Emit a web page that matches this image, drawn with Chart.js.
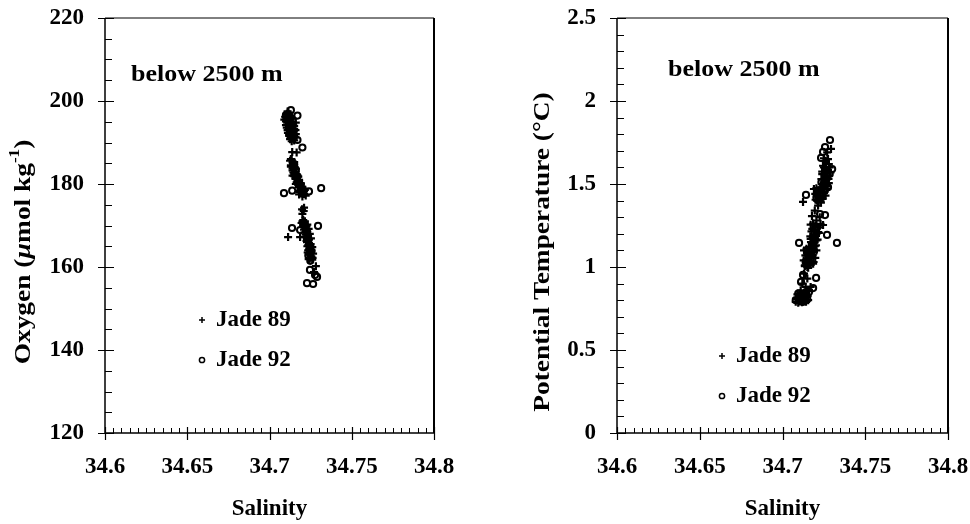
<!DOCTYPE html>
<html>
<head>
<meta charset="utf-8">
<script src="https://cdn.jsdelivr.net/npm/chart.js@4"></script>
<style>
  html, body { margin: 0; padding: 0; background: #fff; overflow: hidden; }
  #wrap { position: relative; width: 970px; height: 524px; }
  canvas { position: absolute; top: 0; }
  #oxy { left: 0; }
  #temp { left: 480px; }
</style>
</head>
<body>
<div id="wrap">
  <canvas id="oxy" width="485" height="524"></canvas>
  <canvas id="temp" width="490" height="524"></canvas>
</div>
<script>
// axis ticks
const salTicks = [34.6, 34.65, 34.7, 34.75, 34.8];
const oxyTicks = [120, 140, 160, 180, 200, 220];
const tempTicks = [0, 0.5, 1, 1.5, 2, 2.5];

// oxygen panel, Jade 89
const salOxy89 = [34.711, 34.712, 34.710, 34.713, 34.711, 34.714, 34.710, 34.712, 34.715, 34.711, 34.713, 34.716, 34.712, 34.714, 34.715, 34.713, 34.709, 34.716,
  34.7095, 34.7105, 34.7115, 34.7125, 34.7135, 34.7100, 34.7110, 34.7120, 34.7130, 34.7140, 34.7150, 34.7105, 34.7118, 34.7128, 34.7138, 34.7148, 34.7158, 34.7112, 34.7122, 34.7132, 34.7142, 34.7155, 34.7125, 34.7135, 34.7145,
  34.7138, 34.7165, 34.715,
  34.713, 34.714, 34.713, 34.715, 34.714, 34.716, 34.715, 34.717, 34.716, 34.718, 34.717, 34.719, 34.718, 34.720, 34.719, 34.721, 34.720, 34.718, 34.722, 34.716, 34.714,
  34.7125, 34.7135, 34.7145, 34.7130, 34.7140, 34.7150, 34.7160, 34.7145, 34.7155, 34.7165, 34.7175, 34.7150, 34.7160, 34.7170, 34.7180, 34.7190, 34.7165, 34.7175, 34.7185, 34.7195, 34.7205, 34.7180, 34.7195, 34.7210, 34.7215, 34.7200, 34.7185,
  34.7198, 34.7208, 34.7200, 34.7210,
  34.7113, 34.7186,
  34.7200, 34.7215, 34.7225, 34.7210, 34.7230, 34.7220, 34.7235, 34.7225, 34.7240, 34.7230, 34.7245, 34.7235, 34.7250, 34.7240, 34.7255, 34.7245, 34.7260, 34.7232, 34.7250,
  34.7195, 34.7205, 34.7215, 34.7205, 34.7218, 34.7230, 34.7212, 34.7225, 34.7238, 34.7220, 34.7232, 34.7245, 34.7228, 34.7240, 34.7252, 34.7236, 34.7248, 34.7260, 34.7242, 34.7255, 34.7265, 34.7250, 34.7262, 34.7238,
  34.7282, 34.7270];
const oxy89 = [197.5, 196.8, 196.0, 195.5, 195.0, 194.6, 194.2, 193.8, 193.3, 193.0, 192.5, 192.0, 191.6, 191.0, 190.5, 194.0, 195.5, 194.8,
  196.2, 196.9, 197.2, 196.4, 195.9, 195.1, 195.6, 194.9, 194.4, 195.0, 194.0, 193.6, 193.1, 193.5, 192.9, 192.6, 193.0, 192.3, 191.9, 191.3, 191.8, 191.2, 190.8, 190.3, 190.9,
  187.7, 187.6, 185.3,
  186.0, 185.2, 184.5, 184.0, 183.3, 183.0, 182.4, 182.0, 181.5, 181.0, 180.5, 180.2, 179.6, 179.3, 178.8, 178.3, 177.8, 177.5, 177.2, 180.0, 182.0,
  185.6, 185.8, 184.8, 184.2, 183.8, 184.5, 183.6, 182.8, 182.7, 182.3, 181.8, 181.9, 181.2, 180.9, 180.7, 180.0, 180.4, 179.8, 179.2, 179.0, 178.9, 178.4, 177.9, 177.6, 178.6, 177.0, 178.1,
  173.9, 173.5, 172.8, 174.3,
  167.2, 167.2,
  171.0, 170.5, 169.8, 169.0, 168.5, 167.8, 167.0, 166.3, 165.8, 165.0, 164.5, 164.0, 163.5, 163.0, 162.5, 162.0, 161.8, 163.5, 165.5,
  170.6, 171.3, 171.0, 170.0, 169.5, 170.2, 168.3, 168.8, 169.2, 167.2, 167.6, 168.0, 166.0, 166.6, 166.9, 165.3, 165.1, 164.8, 164.2, 164.0, 163.2, 162.6, 162.2, 161.9,
  160.2, 158.8];

// oxygen panel, Jade 92
const salOxy92 = [34.713, 34.717, 34.717, 34.720, 34.710, 34.712, 34.714, 34.712, 34.715,
  34.7088, 34.7138, 34.7240, 34.7314, 34.715, 34.717, 34.719, 34.720, 34.716,
  34.7137, 34.7186, 34.7295, 34.7205, 34.7228, 34.7242, 34.7236, 34.7255, 34.7248,
  34.7246, 34.7277, 34.7289, 34.7228, 34.7265];
const oxy92 = [197.8, 196.5, 190.6, 188.8, 196.6, 195.2, 193.0, 192.0, 191.5,
  177.8, 178.4, 178.2, 179.0, 184.8, 181.8, 179.6, 178.6, 183.5,
  169.4, 168.9, 169.9, 170.2, 166.8, 164.3, 162.8, 163.8, 161.5,
  159.3, 158.1, 157.6, 156.1, 155.9];

// temperature panel, Jade 89
const salTemp89 = [34.7293, 34.7270, 34.7260, 34.7280, 34.7250, 34.7275, 34.7290, 34.7240, 34.7265, 34.7255, 34.7280, 34.7245, 34.7230, 34.7270, 34.7220, 34.7250, 34.7210, 34.7240, 34.7200, 34.7230,
  34.7250, 34.7262, 34.7275, 34.7285, 34.7245, 34.7258, 34.7270, 34.7282, 34.7240, 34.7252, 34.7265, 34.7278, 34.7235, 34.7248, 34.7260, 34.7272,
  34.7190, 34.7205, 34.7220, 34.7235, 34.7250, 34.7198, 34.7212, 34.7228, 34.7242, 34.7215, 34.7232, 34.7260, 34.7208,
  34.7124, 34.7178, 34.7245, 34.7215, 34.7195, 34.7225, 34.7205,
  34.7200, 34.7180, 34.7215, 34.7190, 34.7170, 34.7205, 34.7180, 34.7160, 34.7190, 34.7150, 34.7175, 34.7145, 34.7165, 34.7135, 34.7155, 34.7185,
  34.7170, 34.7185, 34.7200, 34.7215, 34.7230, 34.7175, 34.7190, 34.7205, 34.7220, 34.7168, 34.7182, 34.7198, 34.7212, 34.7172, 34.7188, 34.7202, 34.7178, 34.7195,
  34.7130, 34.7145, 34.7160, 34.7175, 34.7190, 34.7205, 34.7138, 34.7152, 34.7168, 34.7182, 34.7198, 34.7128, 34.7142, 34.7158, 34.7172, 34.7188, 34.7135, 34.7150,
  34.7130, 34.7150, 34.7120, 34.7140, 34.7110, 34.7130, 34.7100, 34.7120, 34.7090, 34.7110, 34.7135, 34.7145,
  34.7080, 34.7095, 34.7105, 34.7118, 34.7130, 34.7142, 34.7155, 34.7085, 34.7100, 34.7115, 34.7128, 34.7140, 34.7152, 34.7090, 34.7105, 34.7120, 34.7135, 34.7148, 34.7160, 34.7170];
const temp89 = [1.711, 1.690, 1.640, 1.620, 1.600, 1.585, 1.570, 1.560, 1.545, 1.520, 1.505, 1.500, 1.480, 1.470, 1.455, 1.445, 1.430, 1.420, 1.405, 1.395,
  1.655, 1.630, 1.650, 1.600, 1.610, 1.590, 1.570, 1.550, 1.575, 1.560, 1.525, 1.530, 1.530, 1.510, 1.495, 1.485,
  1.470, 1.475, 1.462, 1.468, 1.455, 1.440, 1.432, 1.425, 1.410, 1.395, 1.388, 1.430, 1.400,
  1.392, 1.307, 1.253, 1.370, 1.340, 1.300, 1.280,
  1.250, 1.230, 1.210, 1.190, 1.170, 1.160, 1.140, 1.120, 1.105, 1.085, 1.065, 1.045, 1.030, 1.010, 0.995, 1.020,
  1.255, 1.262, 1.245, 1.238, 1.260, 1.215, 1.220, 1.200, 1.205, 1.185, 1.178, 1.170, 1.165, 1.150, 1.145, 1.130, 1.118, 1.125,
  1.100, 1.110, 1.095, 1.108, 1.090, 1.100, 1.070, 1.075, 1.060, 1.072, 1.055, 1.040, 1.035, 1.045, 1.025, 1.030, 1.005, 1.000,
  0.960, 0.930, 0.900, 0.880, 0.860, 0.845, 0.830, 0.815, 0.805, 0.795, 0.800, 0.820,
  0.790, 0.785, 0.792, 0.788, 0.795, 0.790, 0.800, 0.810, 0.812, 0.805, 0.818, 0.812, 0.825, 0.835, 0.840, 0.832, 0.848, 0.855, 0.862, 0.880];

// temperature panel, Jade 92
const salTemp92 = [34.7287, 34.7257, 34.7245, 34.7233, 34.7268, 34.7285, 34.7300, 34.7260, 34.7235, 34.7275, 34.7142, 34.7225, 34.7255, 34.7205,
  34.7227, 34.7257, 34.7269, 34.7100, 34.7329, 34.7210, 34.7195, 34.7170, 34.7160, 34.7140,
  34.7124, 34.7112, 34.7203, 34.7185, 34.7160, 34.7100, 34.7080, 34.7125, 34.7150, 34.7095];
const temp92 = [1.765, 1.723, 1.693, 1.657, 1.610, 1.560, 1.590, 1.530, 1.510, 1.480, 1.434, 1.440, 1.460, 1.420,
  1.319, 1.313, 1.193, 1.145, 1.145, 1.240, 1.180, 1.100, 1.060, 1.030,
  0.952, 0.910, 0.934, 0.873, 0.850, 0.815, 0.800, 0.790, 0.805, 0.840];

const FONT = '"Liberation Serif", "Times New Roman", serif';
const pts = (xs, ys) => xs.map((x, i) => ({ x, y: ys[i] }));
const fmt = v => String(+(+v).toFixed(3));

function drawCross(ctx, x, y, r) {
  ctx.beginPath();
  ctx.moveTo(x - r, y); ctx.lineTo(x + r, y);
  ctx.moveTo(x, y - r); ctx.lineTo(x, y + r);
  ctx.stroke();
}
function drawCircle(ctx, x, y, r) {
  ctx.beginPath();
  ctx.arc(x, y, r, 0, Math.PI * 2);
  ctx.stroke();
}

// frame, ticks, axis titles, notes and legend
const decor = {
  id: 'decor',
  afterDraw(chart) {
    const o = chart.options.plugins.decor;
    const ctx = chart.ctx;
    const { left, right, top, bottom } = chart.chartArea;
    const xs = chart.scales.x, ys = chart.scales.y;
    ctx.save();
    ctx.strokeStyle = '#000';
    ctx.fillStyle = '#000';

    // frame
    ctx.lineWidth = 1;
    ctx.beginPath(); ctx.moveTo(left, top); ctx.lineTo(right, top); ctx.stroke();
    ctx.lineWidth = 2;
    ctx.beginPath(); ctx.moveTo(right, top); ctx.lineTo(right, bottom); ctx.stroke();
    ctx.lineWidth = 1.5;
    ctx.beginPath(); ctx.moveTo(left, top); ctx.lineTo(left, bottom); ctx.lineTo(right, bottom); ctx.stroke();

    // minor ticks
    ctx.lineWidth = 1;
    ctx.beginPath();
    for (let v = xs.min; v <= xs.max + 1e-9; v += o.xMinor) {
      const px = Math.round(xs.getPixelForValue(v)) + 0.5;
      ctx.moveTo(px, bottom); ctx.lineTo(px, bottom - 5);
    }
    for (let v = ys.min; v <= ys.max + 1e-9; v += o.yMinor) {
      const py = Math.round(ys.getPixelForValue(v)) + 0.5;
      ctx.moveTo(left, py); ctx.lineTo(left + 7, py);
    }
    ctx.stroke();
    // major ticks
    ctx.lineWidth = 1.2;
    ctx.beginPath();
    xs.ticks.forEach(t => {
      const px = Math.round(xs.getPixelForValue(t.value)) + 0.5;
      ctx.moveTo(px, bottom - 6); ctx.lineTo(px, bottom + 7);
    });
    ys.ticks.forEach(t => {
      const py = Math.round(ys.getPixelForValue(t.value)) + 0.5;
      ctx.moveTo(left - 7, py); ctx.lineTo(left + 9, py);
    });
    ctx.stroke();

    // x title
    ctx.font = 'bold 23px ' + FONT;
    ctx.textAlign = 'center';
    ctx.textBaseline = 'middle';
    ctx.fillText('Salinity', (left + right) / 2, 509);

    // y title (rotated, built from pieces, widened a little like the original face)
    ctx.save();
    ctx.translate(o.yTitleX, 252);
    ctx.rotate(-Math.PI / 2);
    ctx.scale(1.14, 1);
    ctx.textAlign = 'left';
    const parts = o.yTitle;
    const fontOf = p => (p.italic ? 'italic ' : '') + 'bold ' + (p.sup ? 15 : 24) + 'px ' + FONT;
    let total = 0;
    parts.forEach(p => { ctx.font = fontOf(p); total += ctx.measureText(p.t).width; });
    let cx = -total / 2;
    parts.forEach(p => {
      ctx.font = fontOf(p);
      ctx.fillText(p.t, cx, p.sup ? -9 : 0);
      cx += ctx.measureText(p.t).width;
    });
    ctx.restore();

    // note
    ctx.save();
    ctx.font = 'bold 23px ' + FONT;
    ctx.textAlign = 'left';
    ctx.translate(o.noteX, o.noteY);
    ctx.scale(1.13, 1);
    ctx.fillText('below 2500 m', 0, 0);
    ctx.restore();

    // legend
    ctx.font = 'bold 23px ' + FONT;
    ctx.textAlign = 'left';
    ctx.lineWidth = 1.5;
    drawCross(ctx, o.legX, o.legY[0], 3);
    drawCircle(ctx, o.legX, o.legY[1], 2.6);
    ctx.fillText('Jade 89', o.legX + 14, o.legY[0]);
    ctx.fillText('Jade 92', o.legX + 14, o.legY[1]);
    ctx.restore();
  }
};

function makePanel(id, d89, d92, yMin, yMax, yTickVals, padRight, yWidth, extra) {
  return new Chart(document.getElementById(id), {
    type: 'scatter',
    data: {
      datasets: [
        { label: 'Jade 89', data: d89, pointStyle: 'cross', pointRadius: 4, borderColor: '#000', borderWidth: 2.2 },
        { label: 'Jade 92', data: d92, pointStyle: 'circle', pointRadius: 3.1, borderColor: '#000', backgroundColor: 'rgba(0,0,0,0)', borderWidth: 2 }
      ]
    },
    options: {
      responsive: false,
      animation: false,
      devicePixelRatio: 1,
      layout: { padding: { left: 0, right: padRight, top: 18, bottom: 0 } },
      plugins: { legend: { display: false }, tooltip: { enabled: false }, decor: extra },
      scales: {
        x: {
          type: 'linear', min: 34.6, max: 34.8,
          afterBuildTicks: s => { s.ticks = salTicks.map(v => ({ value: v })); },
          afterFit: s => { s.height = 91; s.paddingLeft = 0; s.paddingRight = 0; },
          grid: { display: false, drawTicks: false, tickLength: 0 },
          border: { display: false },
          ticks: { color: '#000', padding: 20, maxRotation: 0, font: { family: FONT, size: 23, weight: 'bold' }, callback: fmt }
        },
        y: {
          type: 'linear', min: yMin, max: yMax,
          afterBuildTicks: s => { s.ticks = yTickVals.map(v => ({ value: v })); },
          afterFit: s => { s.width = yWidth; s.paddingTop = 0; s.paddingBottom = 0; },
          grid: { display: false, drawTicks: false, tickLength: 0 },
          border: { display: false },
          ticks: { color: '#000', padding: 21, font: { family: FONT, size: 23, weight: 'bold' }, callback: fmt }
        }
      }
    },
    plugins: [decor]
  });
}

makePanel('oxy', pts(salOxy89, oxy89), pts(salOxy92, oxy92), 120, 220, oxyTicks, 51, 105, {
  xMinor: 0.005, yMinor: 5, yTitleX: 24,
  yTitle: [{ t: 'Oxygen (' }, { t: 'µ', italic: true }, { t: 'mol kg' }, { t: '-1', sup: true }, { t: ')' }],
  noteX: 131, noteY: 75, legX: 202, legY: [320, 360]
});
makePanel('temp', pts(salTemp89, temp89), pts(salTemp92, temp92), 0, 2.5, tempTicks, 22, 137, {
  xMinor: 0.005, yMinor: 0.1, yTitleX: 63,
  yTitle: [{ t: 'Potential Temperature (°C)' }],
  noteX: 188, noteY: 70, legX: 242, legY: [356, 396]
});
</script>
</body>
</html>
